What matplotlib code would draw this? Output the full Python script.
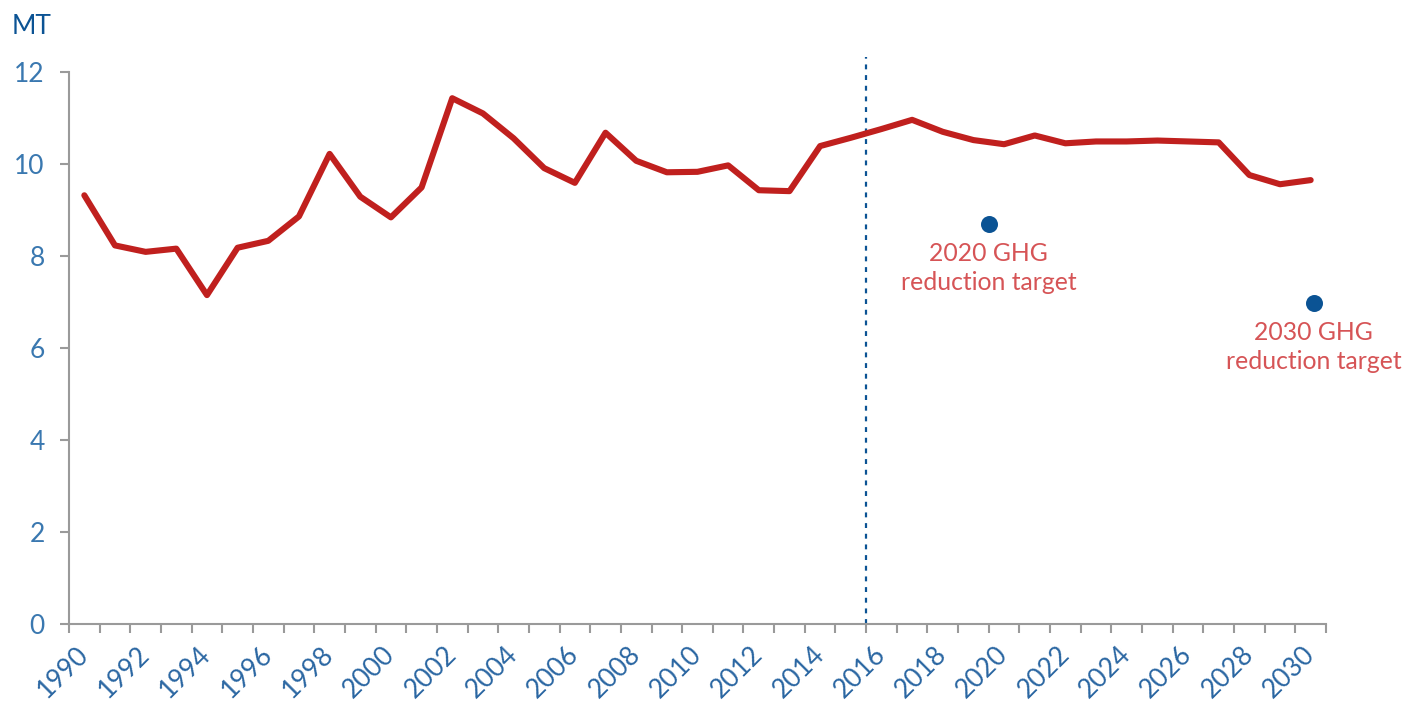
import matplotlib

matplotlib.use("Agg")

import matplotlib.pyplot as plt  # noqa: E402
import matplotlib.transforms as mtransforms  # noqa: E402
from matplotlib.ticker import FixedLocator, NullFormatter  # noqa: E402

# emissions series, MT, 1990-2030 (projection after 2016)
YEARS = list(range(1990, 2031))
EMISSIONS = [
    9.32, 8.23, 8.09, 8.16, 7.15, 8.18, 8.33, 8.86, 10.22, 9.29,
    8.84, 9.49, 11.43, 11.10, 10.56, 9.91, 9.59, 10.68, 10.07, 9.82,
    9.83, 9.97, 9.43, 9.41, 10.39, 10.57, 10.76, 10.96, 10.70, 10.52,
    10.43, 10.62, 10.45, 10.49, 10.49, 10.51, 10.49, 10.47, 9.76, 9.56,
    9.65,
]

# reduction targets (x in year units as placed in the source chart)
TARGET_X = [2019.5, 2030.1]
TARGET_Y = [8.70, 6.98]
TARGET_LABELS = ["2020 GHG\nreduction target", "2030 GHG\nreduction target"]

SPLIT_YEAR = 2015.5
Y_TICKS = [0, 2, 4, 6, 8, 10, 12]
X_LABEL_YEARS = list(range(1990, 2031, 2))

FONT = "Lato"
TICK_BLUE = "#3a78b0"
XLAB_BLUE = "#2a66a2"
DARK_BLUE = "#0b5394"
LINE_RED = "#c0201e"
TEXT_RED = "#d65456"
AXIS_GRAY = "#9a9a9a"


def render(out_path="out.png"):
    fig = plt.figure(figsize=(14.05, 7.06), dpi=100)
    ax = fig.add_axes([69 / 1405, 82 / 706, (1326 - 69) / 1405, (624 - 72) / 706])

    ax.plot(YEARS, EMISSIONS, color=LINE_RED, linewidth=4.4,
            solid_capstyle="round", zorder=3)
    ax.scatter(TARGET_X, TARGET_Y, s=150, color=DARK_BLUE, zorder=4,
               linewidths=0)
    for x, y, label in zip(TARGET_X, TARGET_Y, TARGET_LABELS):
        ax.annotate(label, xy=(x, y), xytext=(0, -13), textcoords="offset points",
                    ha="center", va="top", fontsize=17.8, color=TEXT_RED,
                    family=FONT, linespacing=1.3)

    ax.axvline(SPLIT_YEAR, ymin=0, ymax=1.028, color=DARK_BLUE, linewidth=1.6,
               linestyle=(0, (2.2, 2.6)), clip_on=False, zorder=2)

    ax.set_xlim(YEARS[0] - 0.5, YEARS[-1] + 0.5)
    ax.set_ylim(0, 12)

    for side in ("top", "right"):
        ax.spines[side].set_visible(False)
    for side in ("left", "bottom"):
        ax.spines[side].set_color(AXIS_GRAY)
        ax.spines[side].set_linewidth(1.5)

    ax.set_yticks(Y_TICKS)
    ax.set_yticklabels([str(v) for v in Y_TICKS])
    ax.tick_params(axis="y", direction="out", length=6.5, width=1.5,
                   color=AXIS_GRAY, pad=11, labelsize=19, labelcolor=TICK_BLUE)

    # labels at category centres, tick marks on category boundaries
    ax.set_xticks(X_LABEL_YEARS)
    ax.set_xticklabels([str(y) for y in X_LABEL_YEARS], rotation=45,
                       ha="right", va="top")
    ax.xaxis.set_minor_locator(FixedLocator([y - 0.5 for y in YEARS] + [YEARS[-1] + 0.5]))
    ax.xaxis.set_minor_formatter(NullFormatter())
    ax.tick_params(axis="x", which="major", length=0, pad=12.5, labelsize=19,
                   labelcolor=XLAB_BLUE)
    ax.tick_params(axis="x", which="minor", direction="out", length=6.5,
                   width=1.5, color=AXIS_GRAY)
    shift = mtransforms.ScaledTranslation(9 / 100, 0, fig.dpi_scale_trans)
    for lab in ax.get_xticklabels() + ax.get_yticklabels():
        lab.set_family(FONT)
    for lab in ax.get_xticklabels():
        lab.set_transform(lab.get_transform() + shift)

    fig.text(12 / 1405, 1 - 27 / 706, "MT", ha="left", va="center",
             fontsize=19, color=DARK_BLUE, family=FONT)

    fig.savefig(out_path, dpi=100)


if __name__ == "__main__":
    render()
